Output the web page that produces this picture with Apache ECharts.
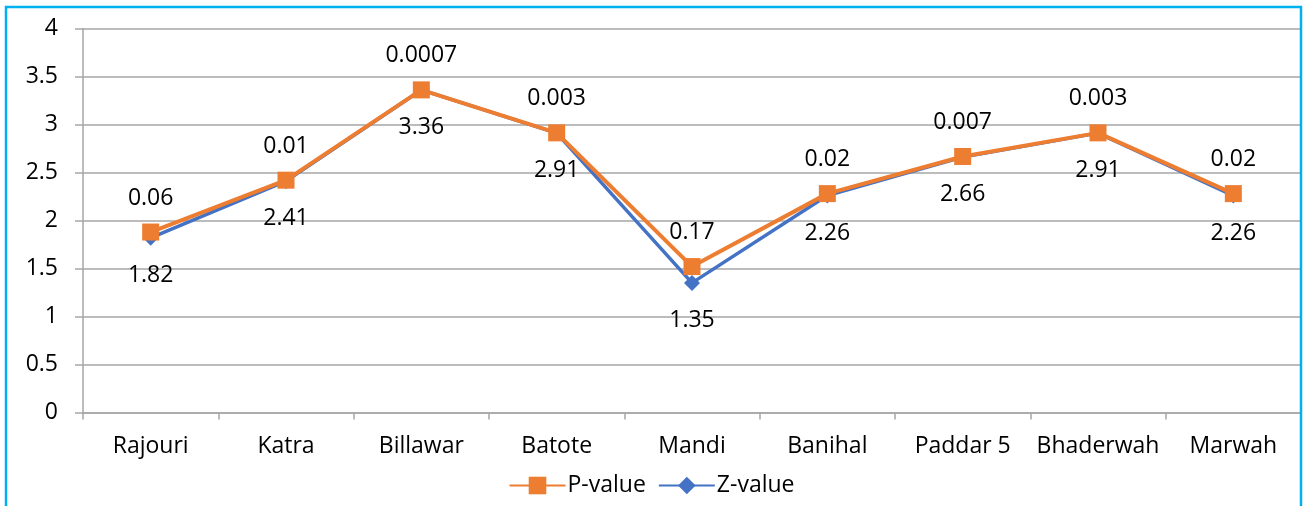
<!DOCTYPE html>
<html>
<head>
<meta charset="utf-8">
<script src="https://cdn.jsdelivr.net/npm/echarts@6/dist/echarts.min.js"></script>
<style>
  html, body { margin: 0; padding: 0; background: #fff; }
  #main { width: 1303px; height: 506px; }
</style>
</head>
<body>
<div id="main"></div>
<script>
// 地点
const places = ['Rajouri', 'Katra', 'Billawar', 'Batote', 'Mandi', 'Banihal', 'Paddar 5', 'Bhaderwah', 'Marwah']
// Z 值
const zValues = [1.82, 2.41, 3.36, 2.91, 1.35, 2.26, 2.66, 2.91, 2.26]
// P 值 (堆叠在 Z 值上面)
const pValues = [0.06, 0.01, 0.0007, 0.003, 0.17, 0.02, 0.007, 0.003, 0.02]
const yTicks = [0, 4, 0.5] // min, max, interval

const font = 'Open Sans'
let chart = echarts.init(document.getElementById('main'), null, { renderer: 'canvas' })
let option = {
  animation: false,
  textStyle: { fontFamily: font },
  graphic: [
    {
      type: 'rect',
      shape: { x: 6, y: 7, width: 1295, height: 520 },
      style: { fill: 'none', stroke: '#00B0F0', lineWidth: 2.5 },
      z: 100
    }
  ],
  grid: {
    left: 83,
    right: 2,
    top: 28.5,
    bottom: 93.5
  },
  legend: {
    data: ['P-value', 'Z-value'],
    bottom: 4,
    left: 'center',
    itemWidth: 56,
    itemHeight: 22,
    itemGap: 12,
    textStyle: { fontFamily: font, fontSize: 23, color: '#000', padding: [0, 0, 0, -3] }
  },
  xAxis: {
    type: 'category',
    data: places,
    boundaryGap: true,
    axisLine: { lineStyle: { color: '#A6A6A6', width: 1.5 } },
    axisTick: { show: true, length: 7, lineStyle: { color: '#A6A6A6', width: 1.5 } },
    axisLabel: { interval: 0, fontFamily: font, fontSize: 23, color: '#000', margin: 22 }
  },
  yAxis: {
    type: 'value',
    min: yTicks[0],
    max: yTicks[1],
    interval: yTicks[2],
    axisLine: { show: true, lineStyle: { color: '#A6A6A6', width: 1.5 } },
    axisTick: { show: true, length: 8, lineStyle: { color: '#A6A6A6', width: 1.5 } },
    splitLine: { show: true, lineStyle: { color: '#A6A6A6', width: 1.5 } },
    axisLabel: { fontFamily: font, fontSize: 23, color: '#000', margin: 25 }
  },
  series: [
    {
      name: 'Z-value',
      type: 'line',
      stack: 'total',
      data: zValues,
      symbol: 'diamond',
      symbolSize: 16,
      lineStyle: { color: '#4472C4', width: 3.5 },
      itemStyle: { color: '#4472C4' },
      label: {
        show: true,
        position: 'bottom',
        distance: 18,
        fontFamily: font,
        fontSize: 23,
        color: '#000'
      }
    },
    {
      name: 'P-value',
      type: 'line',
      stack: 'total',
      data: pValues,
      symbol: 'rect',
      symbolSize: 17,
      lineStyle: { color: '#ED7D31', width: 4 },
      itemStyle: { color: '#ED7D31' },
      label: {
        show: true,
        position: 'top',
        distance: 14,
        fontFamily: font,
        fontSize: 23,
        color: '#000',
        formatter: (params) => {
          return String(pValues[params.dataIndex])
        }
      }
    }
  ]
}
chart.setOption(option)
</script>
</body>
</html>
